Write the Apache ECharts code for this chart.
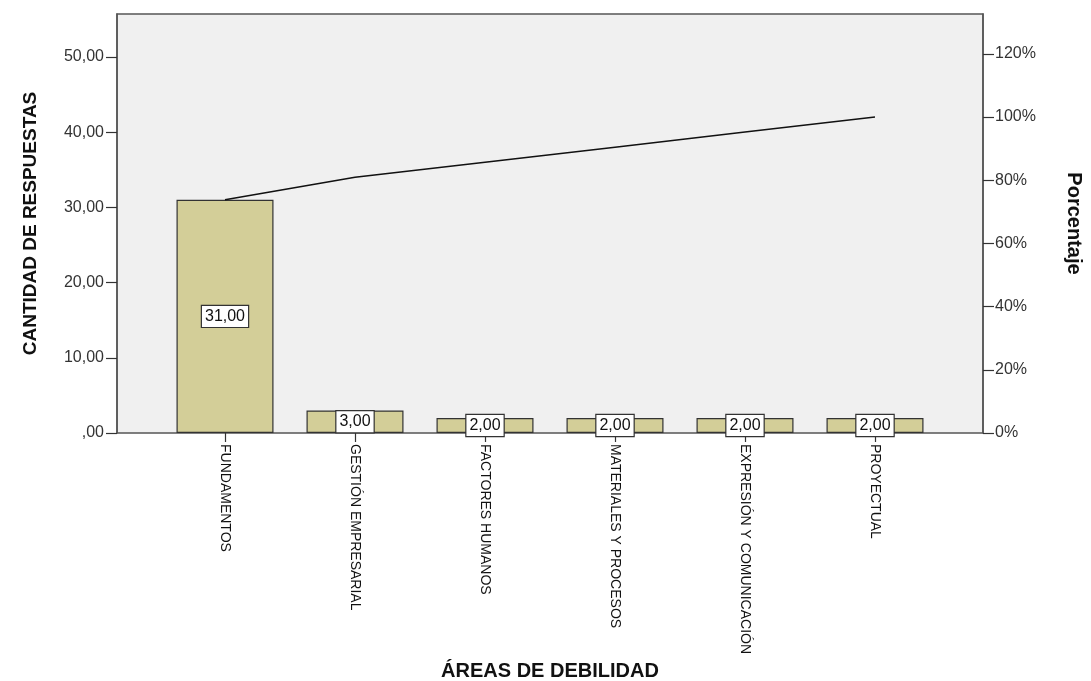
<!DOCTYPE html>
<html>
<head>
<meta charset="utf-8">
<script src="https://cdn.jsdelivr.net/npm/echarts@6/dist/echarts.min.js"></script>
<style>html,body{margin:0;padding:0;background:#fff}#c{width:1091px;height:681px}</style>
</head>
<body>
<div id="c"></div>
<script>
const categories = ['FUNDAMENTOS', 'GESTIÓN EMPRESARIAL', 'FACTORES HUMANOS', 'MATERIALES Y PROCESOS', 'EXPRESIÓN Y COMUNICACIÓN', 'PROYECTUAL'];
const counts = [31, 3, 2, 2, 2, 2];
const leftTicks = [0, 10, 20, 30, 40, 50];
const rightTicks = [0, 20, 40, 60, 80, 100, 120];

const total = counts.reduce((a, b) => a + b, 0);
let run = 0;
const cumPct = counts.map(v => { run += v; return run / total * 100; });

const leftMax = 55.7;
const rightMax = leftMax / total * 100;
const fmt = v => (v === 0 ? ',00' : v.toFixed(2).replace('.', ','));

const chart = echarts.init(document.getElementById('c'), null, { renderer: 'canvas' });
chart.setOption({
  backgroundColor: '#ffffff',
  animation: false,
  graphic: [{
    type: 'rect', z: -10, silent: true,
    shape: { x: 117, y: 14, width: 866, height: 419 },
    style: { fill: '#f0f0f0', stroke: '#555555', lineWidth: 1.5 }
  }],
  grid: { left: 160, right: 151, top: 14, bottom: 248, containLabel: false, outerBoundsMode: 'none' },
  xAxis: {
    type: 'category',
    data: categories,
    name: 'ÁREAS DE DEBILIDAD',
    nameLocation: 'middle',
    nameGap: 224,
    nameTextStyle: { fontFamily: 'Liberation Sans', fontWeight: 'bold', fontSize: 20, color: '#111' },
    axisLine: { show: false },
    axisTick: { show: true, alignWithLabel: true, length: 9, lineStyle: { color: '#333', width: 1.2 } },
    axisLabel: {
      rotate: -90, interval: 0, margin: 11,
      fontFamily: 'Liberation Sans', fontSize: 14, color: '#111'
    },
    splitLine: { show: false }
  },
  yAxis: [{
    type: 'value', min: 0, max: leftMax, position: 'left', offset: 43,
    name: 'CANTIDAD DE RESPUESTAS', nameLocation: 'middle', nameGap: 77, nameRotate: 90,
    nameTextStyle: { fontFamily: 'Liberation Sans', fontWeight: 'bold', fontSize: 19, color: '#111' },
    axisLine: { show: true, lineStyle: { color: '#555', width: 1.5 } },
    axisTick: { show: true, length: 11, customValues: leftTicks, lineStyle: { color: '#333', width: 1.2 } },
    axisLabel: { customValues: leftTicks, formatter: fmt, fontFamily: 'Liberation Sans', fontSize: 16, color: '#333', margin: 13 },
    splitLine: { show: false }
  }, {
    type: 'value', min: 0, max: rightMax, position: 'right', offset: 43,
    name: 'Porcentaje', nameLocation: 'middle', nameGap: 81, nameRotate: -90,
    nameTextStyle: { fontFamily: 'Liberation Sans', fontWeight: 'bold', fontSize: 20, color: '#111' },
    axisLine: { show: true, lineStyle: { color: '#555', width: 1.5 } },
    axisTick: { show: true, length: 11, customValues: rightTicks, lineStyle: { color: '#333', width: 1.2 } },
    axisLabel: { customValues: rightTicks, formatter: v => Math.round(v) + '%', fontFamily: 'Liberation Sans', fontSize: 16, color: '#333', margin: 12 },
    splitLine: { show: false }
  }],
  series: [{
    type: 'bar',
    data: counts,
    yAxisIndex: 0,
    barWidth: 97,
    itemStyle: { color: '#d3ce98', borderColor: '#333', borderWidth: 1.2 },
    label: {
      show: true, position: 'inside',
      formatter: p => fmt(p.value),
      backgroundColor: '#ffffff', borderColor: '#333', borderWidth: 1.2,
      padding: [3, 3, 2, 3],
      fontFamily: 'Liberation Sans', fontSize: 16, color: '#111'
    }
  }, {
    type: 'line',
    data: cumPct,
    yAxisIndex: 1,
    symbol: 'none',
    lineStyle: { color: '#111', width: 1.5 },
    z: 5
  }]
});
</script>
</body>
</html>
